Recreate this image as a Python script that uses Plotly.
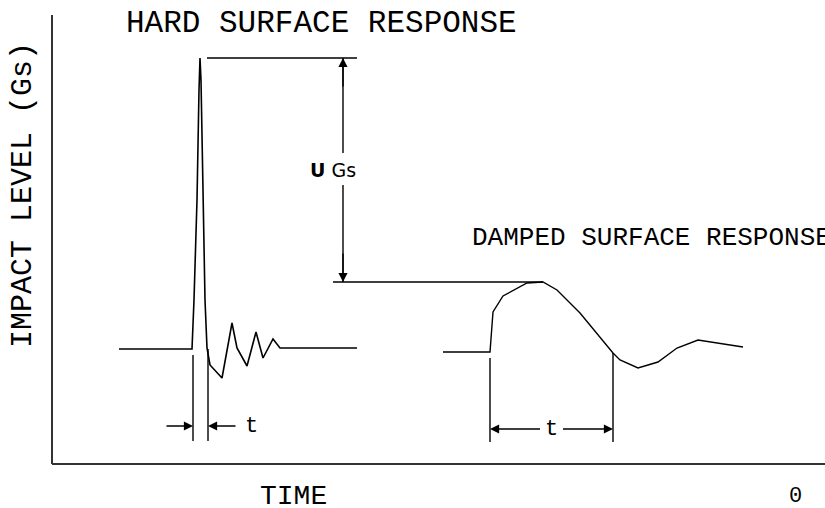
import plotly.graph_objects as go

# ---- data (time units, impact level units) ----
hard_time = [119, 192, 194, 197, 199, 200, 201, 203, 205, 207, 210, 222, 232, 237, 247, 256, 263, 273, 280, 357]
hard_level = [159, 159, 208, 308, 418, 450, 428, 308, 208, 160, 143, 130, 185, 160, 142, 176, 150, 169, 160, 160]

damped_time = [443, 490, 493, 503, 527, 543, 557, 580, 613, 620, 638, 658, 677, 698, 743]
damped_level = [156, 156, 196, 212, 225, 226, 218, 195, 155, 148, 140, 146, 160, 168, 161]

title_hard = "HARD SURFACE RESPONSE"
title_damped = "DAMPED SURFACE RESPONSE"
y_title = "IMPACT LEVEL (Gs)"
x_title = "TIME"
x_end_label = "0"
delta_label = "<b>U</b> Gs"
dur_label = "t"

# ---- layout constants ----
W, H = 825, 508
AX_X0, AX_Y0, AX_TOP = 52, 44, 493
BLACK = "#000000"
MONO = "Liberation Mono, DejaVu Sans Mono, monospace"


def pulse_bounds(t, v):
    base = v[0]
    ip = v.index(max(v))
    start = max(i for i in range(ip) if v[i] <= base + 2)
    end = min(i for i in range(ip + 1, len(v)) if v[i] <= base + 2)
    return t[start], t[end], t[ip], v[ip]


h_start, h_end, h_pk_t, h_pk = pulse_bounds(hard_time, hard_level)
d_start, d_end, d_pk_t, d_pk = pulse_bounds(damped_time, damped_level)

fig = go.Figure()
fig.add_trace(go.Scatter(x=hard_time, y=hard_level, mode="lines",
                         line=dict(color=BLACK, width=1.6), hoverinfo="skip"))
fig.add_trace(go.Scatter(x=damped_time, y=damped_level, mode="lines",
                         line=dict(color=BLACK, width=1.4), hoverinfo="skip"))

shapes = []


def seg(x0, y0, x1, y1, w=1.4, c=BLACK):
    shapes.append(dict(type="line", xref="x", yref="y", x0=x0, y0=y0, x1=x1, y1=y1,
                       line=dict(color=c, width=w)))


# axes
seg(AX_X0, AX_Y0, AX_X0, AX_TOP, w=2, c="#333333")
seg(AX_X0, AX_Y0, W, AX_Y0, w=2, c="#333333")

# peak difference dimension
dim_x = 343
seg(h_pk_t + 7, h_pk, dim_x + 14, h_pk)
seg(dim_x - 10, d_pk, d_pk_t, d_pk)
seg(dim_x, h_pk, dim_x, 355)
seg(dim_x, 323, dim_x, d_pk)

# hard duration extension lines
ext_bot = 67
seg(h_start + 1, hard_level[0] - 6, h_start + 1, ext_bot)
seg(h_end + 1, hard_level[0], h_end + 1, ext_bot)
# damped duration extension lines
seg(d_start, damped_level[0] - 6, d_start, ext_bot - 1)
seg(d_end, damped_level[damped_time.index(d_end)], d_end, ext_bot - 1)

ann = []


def arrow(xh, yh, xt, yt):
    ann.append(dict(x=xh, y=yh, ax=xt, ay=yt, xref="x", yref="y", axref="x", ayref="y",
                    showarrow=True, arrowhead=2, arrowsize=1.3, arrowwidth=1.4,
                    arrowcolor=BLACK, text="", standoff=0))


# arrows for peak difference
arrow(dim_x, h_pk, dim_x, h_pk - 30)
arrow(dim_x, d_pk, dim_x, d_pk + 30)
# hard t arrows (pointing inward)
arrow(h_start + 1, 82, h_start - 27, 82)
arrow(h_end + 1, 82, h_end + 30, 82)
# damped t arrows (pointing outward)
d_mid = (d_start + d_end) / 2
arrow(d_start, 79, d_mid - 10, 79)
arrow(d_end, 79, d_mid + 10, 79)


def text(x, y, s, size, family=MONO, xanchor="left", angle=0):
    ann.append(dict(x=x, y=y, xref="x", yref="y", text=s, showarrow=False,
                    xanchor=xanchor, yanchor="middle", textangle=angle,
                    font=dict(family=family, size=size, color=BLACK)))


text(124, 485, title_hard, 31)
text(470, 270, title_damped, 26)
text(23, 313, y_title, 30, xanchor="center", angle=-90)
text(258, 12, x_title, 28)
text(795, 12, x_end_label, 22, xanchor="center")
text(dim_x - 10, 338, delta_label, 19, family="DejaVu Sans, sans-serif", xanchor="center")
text(251, 82, dur_label, 22, xanchor="center")
text(d_mid, 79, dur_label, 22, xanchor="center")

fig.update_layout(
    width=W, height=H,
    margin=dict(l=0, r=0, t=0, b=0),
    paper_bgcolor="white", plot_bgcolor="white",
    showlegend=False,
    hovermode=False,
    xaxis=dict(range=[0, W], visible=False, fixedrange=True),
    yaxis=dict(range=[0, H], visible=False, fixedrange=True),
    shapes=shapes, annotations=ann,
)

fig.write_html(
    "out.html",
    config={"displayModeBar": False, "staticPlot": True},
    post_script="document.body.style.margin='0';document.body.style.overflow='hidden';",
)
